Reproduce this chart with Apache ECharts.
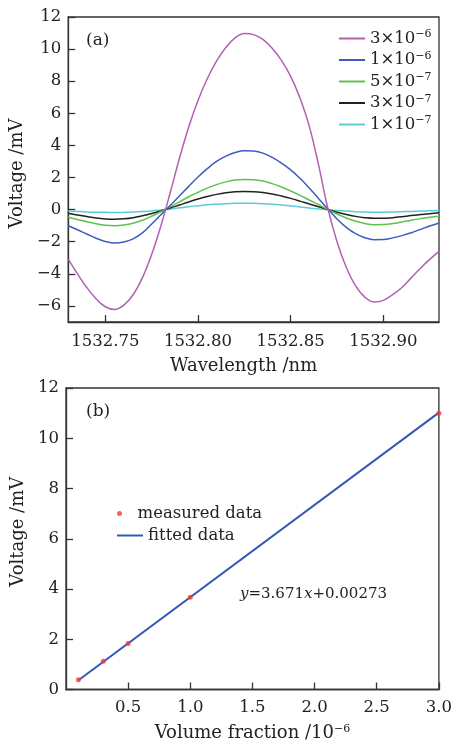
<!DOCTYPE html>
<html>
<head>
<meta charset="utf-8">
<script src="https://cdn.jsdelivr.net/npm/echarts@6/dist/echarts.min.js"></script>
<style>
  html, body { margin: 0; padding: 0; background: #fff; }
  #chart { width: 455px; height: 743px; }
</style>
</head>
<body>
<div id="chart"></div>
<script>
// (a) wavelength sweep, mV
const wavelengths = [
  1532.730, 1532.735, 1532.740, 1532.745, 1532.750, 1532.755, 1532.760, 1532.765, 1532.770, 1532.775,
  1532.780, 1532.785, 1532.790, 1532.795, 1532.800, 1532.805, 1532.810, 1532.815, 1532.820, 1532.825,
  1532.830, 1532.835, 1532.840, 1532.845, 1532.850, 1532.855, 1532.860, 1532.865, 1532.870, 1532.875,
  1532.880, 1532.885, 1532.890, 1532.895, 1532.900, 1532.905, 1532.910, 1532.915, 1532.920, 1532.925, 1532.930
]
const v3e6 = [
  -3.08, -4.0, -4.85, -5.55, -6.05, -6.22, -5.95, -5.3, -4.25, -2.8,
  -1.0, 1.05, 3.2, 5.15, 6.8, 8.15, 9.25, 10.1, 10.7, 10.97,
  10.9, 10.6, 10.05, 9.3, 8.3, 6.95, 5.2, 2.8, 0.1, -2.0,
  -3.6, -4.75, -5.45, -5.75, -5.65, -5.3, -4.85, -4.25, -3.65, -3.1, -2.6
]
const v1e6 = [
  -1.0, -1.25, -1.52, -1.78, -1.98, -2.08, -2.02, -1.82, -1.45, -0.9,
  -0.32, 0.26, 0.85, 1.45, 2.03, 2.55, 3.0, 3.33, 3.56, 3.67,
  3.65, 3.52, 3.25, 2.9, 2.48, 1.95, 1.35, 0.7, 0.05, -0.58,
  -1.1, -1.5, -1.75, -1.87, -1.86, -1.76, -1.62, -1.44, -1.23, -1.02, -0.83
]
const v5e7 = [
  -0.48, -0.61, -0.75, -0.88, -0.97, -1.0, -0.96, -0.85, -0.66, -0.41,
  -0.13, 0.17, 0.48, 0.8, 1.08, 1.34, 1.56, 1.73, 1.84, 1.88,
  1.86, 1.78, 1.62, 1.41, 1.16, 0.89, 0.6, 0.31, 0.02, -0.27,
  -0.52, -0.72, -0.87, -0.94, -0.93, -0.87, -0.77, -0.66, -0.56, -0.47, -0.41
]
const v3e7 = [
  -0.23, -0.33, -0.43, -0.52, -0.58, -0.6, -0.57, -0.5, -0.38, -0.24,
  -0.08, 0.1, 0.29, 0.48, 0.66, 0.82, 0.95, 1.05, 1.11, 1.13,
  1.12, 1.07, 0.98, 0.85, 0.7, 0.53, 0.35, 0.18, 0.01, -0.16,
  -0.3, -0.42, -0.5, -0.54, -0.54, -0.5, -0.44, -0.37, -0.31, -0.25, -0.2
]
const v1e7 = [
  -0.08, -0.11, -0.14, -0.16, -0.17, -0.18, -0.17, -0.15, -0.12, -0.08,
  -0.02, 0.04, 0.11, 0.18, 0.24, 0.3, 0.34, 0.37, 0.39, 0.4,
  0.39, 0.37, 0.34, 0.29, 0.23, 0.17, 0.1, 0.04, 0.0, -0.05,
  -0.09, -0.13, -0.15, -0.16, -0.16, -0.15, -0.13, -0.11, -0.09, -0.07, -0.05
]
const seriesNamesA = ['3×10^−6', '1×10^−6', '5×10^−7', '3×10^−7', '1×10^−7']
const seriesColorsA = ['#b160b4', '#3d5cbf', '#5fc24e', '#222222', '#5ccbd9']
const xTicksA = [1532.75, 1532.80, 1532.85, 1532.90]
const yTicksA = [-6, -4, -2, 0, 2, 4, 6, 8, 10, 12]

// (b) peak voltage vs volume fraction
const fractions = [0.1, 0.3, 0.5, 1.0, 3.0]
const measured = [0.39, 1.12, 1.83, 3.67, 11.0]
const fitX = [0.1, 3.0]
const fitY = [0.37, 11.02]

const FONT = 'DejaVu Serif'
const AXIS = '#333'
const LINE_ICON = 'rect'

const chart = echarts.init(document.getElementById('chart'), null, { renderer: 'canvas' })

const minus = v => String(v).replace('-', '−')
const sup = s => s.replace(/\^(\S+)/, '{sup|$1}')

function zip(xs, ys) {
  return xs.map((x, i) => [x, ys[i]])
}

const richSup = {
  sup: { fontFamily: FONT, fontSize: 11, color: '#222', padding: [0, 0, 8, 0] }
}

const baseAxis = {
  axisLine: { show: true, onZero: false, lineStyle: { color: AXIS, width: 1.3 } },
  axisTick: { show: true, inside: true, length: 7, lineStyle: { color: AXIS, width: 1.3 } },
  splitLine: { show: false },
  nameTextStyle: { fontFamily: FONT, fontSize: 18, color: '#222', rich: richSup },
  axisLabel: { fontFamily: FONT, fontSize: 16.5, color: '#222' }
}

const seriesA = [v3e6, v1e6, v5e7, v3e7, v1e7].map((vals, i) => ({
  name: seriesNamesA[i],
  type: 'line',
  xAxisIndex: 0,
  yAxisIndex: 0,
  data: zip(wavelengths, vals),
  smooth: 0.4,
  symbol: 'none',
  lineStyle: { color: seriesColorsA[i], width: 1.5 },
  itemStyle: { color: seriesColorsA[i] },
  z: 10 - i
}))

chart.setOption({
  animation: false,
  backgroundColor: '#fff',
  grid: [
    { left: 67, right: 16, top: 17, height: 305, show: true, borderColor: AXIS, borderWidth: 1.3 },
    { left: 66, right: 16, top: 388, bottom: 49, show: true, borderColor: AXIS, borderWidth: 1.3 }
  ],
  xAxis: [
    {
      ...baseAxis,
      gridIndex: 0,
      type: 'value',
      min: 1532.73,
      max: 1532.93,
      name: 'Wavelength /nm',
      nameLocation: 'middle',
      nameGap: 35,
      nameTextStyle: { ...baseAxis.nameTextStyle, padding: [0, 20, 0, 0] },
      axisTick: { ...baseAxis.axisTick, customValues: xTicksA },
      axisLabel: { ...baseAxis.axisLabel, margin: 11, customValues: xTicksA, formatter: v => v.toFixed(2) }
    },
    {
      ...baseAxis,
      gridIndex: 1,
      type: 'value',
      min: 0,
      max: 3,
      interval: 0.5,
      name: 'Volume fraction /10{sup|−6}',
      nameLocation: 'middle',
      nameGap: 34,
      axisLabel: { ...baseAxis.axisLabel, margin: 10, showMinLabel: false, formatter: v => v.toFixed(1) }
    }
  ],
  yAxis: [
    {
      ...baseAxis,
      gridIndex: 0,
      type: 'value',
      min: -7,
      max: 12,
      name: 'Voltage /mV',
      nameLocation: 'middle',
      nameGap: 37,
      nameTextStyle: { ...baseAxis.nameTextStyle, padding: [0, 8, 0, 0] },
      axisTick: { ...baseAxis.axisTick, customValues: yTicksA },
      axisLabel: { ...baseAxis.axisLabel, margin: 7, customValues: yTicksA, formatter: minus }
    },
    {
      ...baseAxis,
      gridIndex: 1,
      type: 'value',
      min: 0,
      max: 12,
      interval: 2,
      name: 'Voltage /mV',
      nameLocation: 'middle',
      nameGap: 37,
      nameTextStyle: { ...baseAxis.nameTextStyle, padding: [0, 0, 0, 14] },
      axisLabel: { ...baseAxis.axisLabel, margin: 7 }
    }
  ],
  legend: [
    {
      data: seriesNamesA.map(n => ({ name: n, icon: LINE_ICON })),
      orient: 'vertical',
      left: 334,
      top: 24,
      itemWidth: 26,
      itemHeight: 2,
      itemGap: 3,
      formatter: sup,
      textStyle: { fontFamily: FONT, fontSize: 16.5, lineHeight: 18, color: '#222', rich: richSup }
    },
    {
      data: [{ name: 'measured data', icon: 'circle' }],
      left: 112,
      top: 500,
      itemWidth: 26,
      itemHeight: 5,
      textStyle: { fontFamily: FONT, fontSize: 16.5, color: '#222' }
    },
    {
      data: [{ name: 'fitted data', icon: LINE_ICON }],
      left: 112,
      top: 522,
      itemWidth: 26,
      itemHeight: 2,
      textStyle: { fontFamily: FONT, fontSize: 16.5, color: '#222' }
    }
  ],
  graphic: [
    { type: 'text', left: 86, top: 32, style: { text: '(a)', font: '17px "DejaVu Serif"', fill: '#222' } },
    { type: 'text', left: 86, top: 403, style: { text: '(b)', font: '17px "DejaVu Serif"', fill: '#222' } },
    {
      type: 'text', left: 240, top: 587,
      style: {
        text: '{i|y}=3.671{i|x}+0.00273',
        font: '15px "DejaVu Serif"',
        fill: '#222',
        rich: { i: { fontFamily: FONT, fontSize: 15, fontStyle: 'italic', fill: '#222' } }
      }
    }
  ],
  series: [
    ...seriesA,
    {
      name: 'fitted data',
      type: 'line',
      xAxisIndex: 1,
      yAxisIndex: 1,
      data: zip(fitX, fitY),
      symbol: 'none',
      lineStyle: { color: '#3358b8', width: 2 },
      itemStyle: { color: '#3358b8' },
      z: 3
    },
    {
      name: 'measured data',
      type: 'scatter',
      xAxisIndex: 1,
      yAxisIndex: 1,
      data: zip(fractions, measured),
      symbol: 'circle',
      symbolSize: 5,
      itemStyle: { color: '#f03a3a' },
      z: 4
    }
  ]
})
</script>
</body>
</html>
